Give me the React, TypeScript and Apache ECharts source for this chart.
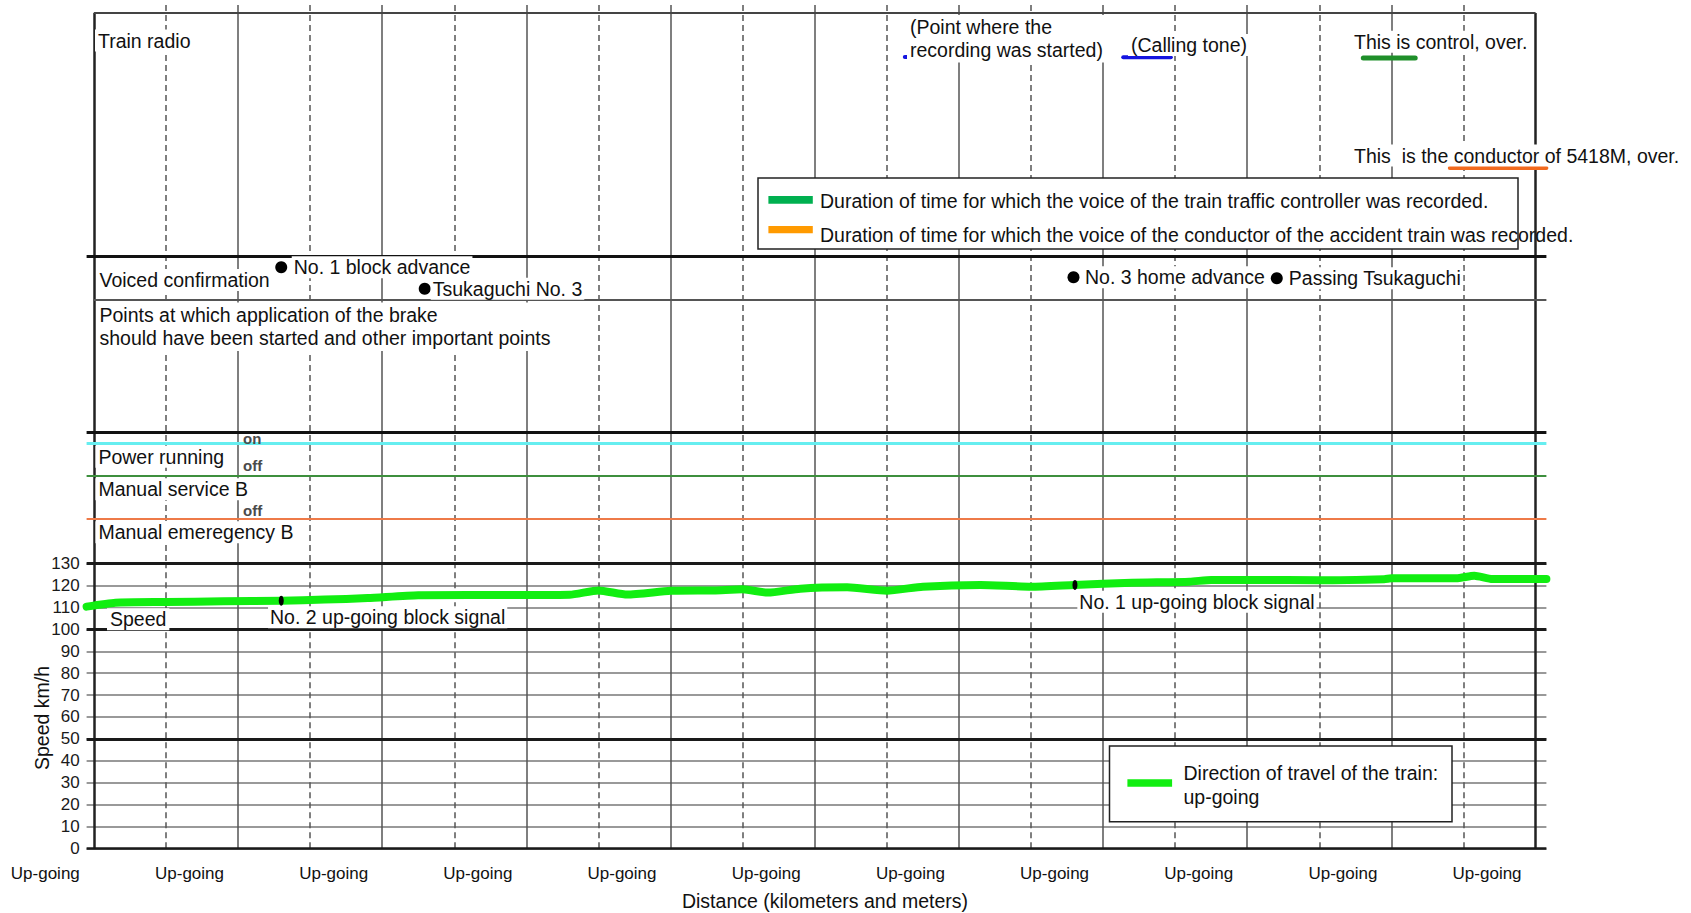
import React, { useEffect, useRef } from "react";
import * as echarts from "echarts";

// ---------------- data ----------------
// distance axis: grid divisions 0..20, labels every second division
const gridDivisions = [0, 1, 2, 3, 4, 5, 6, 7, 8, 9, 10, 11, 12, 13, 14, 15, 16, 17, 18, 19, 20];
const distanceTicks = [0, 2, 4, 6, 8, 10, 12, 14, 16, 18, 20];
const distanceTickLabels = ["Up-going", "Up-going", "Up-going", "Up-going", "Up-going", "Up-going", "Up-going", "Up-going", "Up-going", "Up-going", "Up-going"];

// speed trace (km/h) against distance divisions
const speedDistance = [-0.1, 0.3, 1.0, 1.8, 2.6, 3.2, 3.8, 4.5, 5.2, 6.0, 6.6, 7.0, 7.4, 8.0, 8.6, 9.0, 9.35, 9.8, 10.45, 11.0, 11.5, 12.3, 13.0, 13.6, 14.4, 15.2, 15.5, 16.1, 17.0, 17.9, 18.0, 18.9, 19.15, 19.4, 20.15];
const speedKmh = [110.4, 112.2, 112.5, 112.8, 113.1, 113.6, 114.3, 115.6, 115.7, 115.7, 115.8, 117.8, 115.9, 117.6, 117.8, 118.3, 116.8, 118.6, 119.2, 117.7, 119.5, 120.3, 119.5, 120.3, 121.3, 121.8, 122.6, 122.6, 122.4, 122.9, 123.3, 123.3, 124.5, 123.0, 123.0];

// signals passed (markers on the speed trace)
const signalNames = ["No. 2 up-going block signal", "No. 1 up-going block signal"];
const signalDistance = [2.6, 13.61];
const signalSpeed = [113.1, 120.3];

// voiced confirmations
const voicedNames = ["No. 1 block advance", "Tsukaguchi No. 3", "No. 3 home advance", "Passing Tsukaguchi"];
const voicedDistance = [2.6, 4.59, 13.59, 16.41];

// train radio recordings (start / end in distance divisions)
const radioNames = ["Recording started", "Calling tone", "Controller", "Conductor"];
const radioStart = [11.25, 14.28, 17.61, 18.81];
const radioEnd = [11.34, 14.94, 18.33, 20.15];

// speed axis
const speedMin = 0;
const speedMax = 130;
const speedStep = 10;
const speedHeavyLines = [0, 50, 100, 130];

// ---------------- layout / style ----------------
const FONT = '"Liberation Sans", Arial, Helvetica, sans-serif';
const X_MIN = -0.1;
const X_MAX = 20.15;
const GRID_LEFT = 86.6;
const GRID_WIDTH = 1459.8;
const UPPER_TOP = 5;
const SPEED_TOP = 563.7;
const SPEED_BOTTOM = 848.3;
const FRAME_TOP = 13;

const voicedRowY = [267.3, 288.7, 277.3, 278.3];
const voicedLabelGap = [4.5, 0, 3.5, 4];
const radioRowY = [57, 57.3, 58, 168];
const radioColors = ["#1414e0", "#1414e0", "#1f8f2a", "#f26a1e"];
const radioWidths = [4, 4, 5, 4];
const signalLabelOffset = [
  [-10.7, 21.6],
  [4.9, 21.7],
];

const panelRules = [
  { y: 13, color: "#444", width: 2, from: 0, to: 20 },
  { y: 255.8, color: "#111", width: 3, from: X_MIN, to: X_MAX },
  { y: 300, color: "#555", width: 2, from: 0, to: X_MAX },
  { y: 432.3, color: "#111", width: 3, from: X_MIN, to: X_MAX },
  { y: 443.3, color: "#66eef0", width: 3, from: X_MIN, to: X_MAX },
  { y: 475.3, color: "#3d8f3d", width: 2, from: X_MIN, to: X_MAX },
  { y: 519, color: "#ee7a48", width: 2, from: X_MIN, to: X_MAX },
];

const panelTexts = [
  { text: "Train radio", x: 95, y: 40.5 },
  { text: "(Point where the\nrecording was started)", x: 907, y: 38.7, lineHeight: 22.7 },
  { text: "(Calling tone)", x: 1128, y: 45 },
  { text: "This is control, over.", x: 1351, y: 41.7 },
  { text: "This  is the conductor of 5418M, over.", x: 1351, y: 155.5 },
  { text: "Voiced confirmation", x: 96.5, y: 280 },
  {
    text: "Points at which application of the brake\nshould have been started and other important points",
    x: 96.5,
    y: 326.7,
    lineHeight: 23.3,
  },
  { text: "Power running", x: 95.4, y: 456.7 },
  { text: "Manual service B", x: 95.4, y: 489.3 },
  { text: "Manual emeregency B", x: 95.4, y: 532.3 },
  { text: "Speed", x: 107, y: 619.3 },
];

const switchTexts = [
  { text: "on", x: 243, y: 438.3 },
  { text: "off", x: 243, y: 465.7 },
  { text: "off", x: 243, y: 510 },
];

function verticalRule(x: number, fromY?: number, toY?: number) {
  const isFrame = x === 0 || x === 20;
  const style = isFrame
    ? { color: "#222", width: 2.5, type: "solid" }
    : x % 2 === 0
    ? { color: "#555", width: 1.5, type: "solid" }
    : { color: "#555", width: 1.5, type: [6, 4] };
  if (fromY === undefined) return { xAxis: x, lineStyle: style };
  return [{ coord: [x, fromY], lineStyle: style }, { coord: [x, toY] }];
}

function buildOption() {
  const upperVerticals = gridDivisions.map((x) =>
    x === 0 || x === 20 ? verticalRule(x, FRAME_TOP, SPEED_TOP) : verticalRule(x)
  );
  const upperHorizontals = panelRules.map((r) => [
    { coord: [r.from, r.y], lineStyle: { color: r.color, width: r.width, type: "solid" } },
    { coord: [r.to, r.y] },
  ]);
  const speedVerticals = gridDivisions.map((x) => verticalRule(x));
  const speedHorizontals = speedHeavyLines.map((v) => ({
    yAxis: v,
    lineStyle: { color: "#1a1a1a", width: v === 0 ? 2.5 : 3, type: "solid" },
  }));

  const baseMarkLine = {
    z: 1,
    silent: true,
    symbol: ["none", "none"],
    label: { show: false },
    emphasis: { disabled: true },
    animation: false,
  };

  const textStyleBase = {
    fontFamily: FONT,
    fontSize: 19.5,
    fill: "#111",
    align: "left",
    verticalAlign: "middle",
  };

  const graphics: any[] = [];
  panelTexts.forEach((t) => {
    graphics.push({
      type: "text",
      x: t.x,
      y: t.y,
      z: 20,
      silent: true,
      style: {
        ...textStyleBase,
        text: t.text,
        lineHeight: t.lineHeight,
        backgroundColor: "#fff",
        padding: [1, 3],
      },
    });
  });
  switchTexts.forEach((t) => {
    graphics.push({
      type: "text",
      x: t.x,
      y: t.y,
      z: 20,
      silent: true,
      style: {
        fontFamily: FONT,
        fontSize: 15,
        fontWeight: "bold",
        fill: "#4a4a4a",
        text: t.text,
        align: "left",
        verticalAlign: "middle",
      },
    });
  });

  // radio legend box
  graphics.push(
    {
      type: "rect",
      z: 20,
      silent: true,
      shape: { x: 758, y: 178, width: 760, height: 71 },
      style: { fill: "#fff", stroke: "#222", lineWidth: 1.5 },
    },
    {
      type: "rect",
      z: 21,
      silent: true,
      shape: { x: 768.4, y: 196, width: 44.4, height: 7.7 },
      style: { fill: "#00b050" },
    },
    {
      type: "rect",
      z: 21,
      silent: true,
      shape: { x: 768.4, y: 226, width: 44.4, height: 7.3 },
      style: { fill: "#ff9a00" },
    },
    {
      type: "text",
      x: 820,
      y: 201,
      z: 21,
      silent: true,
      style: {
        ...textStyleBase,
        text: "Duration of time for which the voice of the train traffic controller was recorded.",
      },
    },
    {
      type: "text",
      x: 820,
      y: 235,
      z: 21,
      silent: true,
      style: {
        ...textStyleBase,
        text: "Duration of time for which the voice of the conductor of the accident train was recorded.",
      },
    }
  );

  // direction legend box
  graphics.push(
    {
      type: "rect",
      z: 20,
      silent: true,
      shape: { x: 1109.5, y: 746, width: 342.5, height: 75.7 },
      style: { fill: "#fff", stroke: "#222", lineWidth: 1.5 },
    },
    {
      type: "rect",
      z: 21,
      silent: true,
      shape: { x: 1127.4, y: 779.3, width: 44.7, height: 7.4 },
      style: { fill: "#11ee11" },
    },
    {
      type: "text",
      x: 1183.5,
      y: 785,
      z: 21,
      silent: true,
      style: {
        ...textStyleBase,
        text: "Direction of travel of the train:\nup-going",
        lineHeight: 23.4,
      },
    }
  );

  const labelBase = {
    show: true,
    formatter: "{b}",
    fontFamily: FONT,
    fontSize: 19.5,
    color: "#111",
    opacity: 1,
    backgroundColor: "#fff",
    padding: [1, 2],
  };

  const series: any[] = [
    {
      name: "upper rules",
      type: "line",
      xAxisIndex: 1,
      yAxisIndex: 1,
      data: [],
      markLine: { ...baseMarkLine, data: [...upperVerticals, ...upperHorizontals] },
    },
    {
      name: "speed rules",
      type: "line",
      xAxisIndex: 0,
      yAxisIndex: 0,
      data: [],
      markLine: { ...baseMarkLine, data: [...speedVerticals, ...speedHorizontals] },
    },
    {
      name: "Speed",
      type: "line",
      xAxisIndex: 0,
      yAxisIndex: 0,
      z: 3,
      clip: false,
      smooth: 0.2,
      showSymbol: false,
      lineStyle: { color: "#11ee11", width: 8, cap: "round", join: "round" },
      itemStyle: { color: "#11ee11" },
      data: speedDistance.map((d, i) => [d, speedKmh[i]]),
    },
    {
      name: "Signals",
      type: "scatter",
      xAxisIndex: 0,
      yAxisIndex: 0,
      z: 4,
      symbol: "circle",
      symbolSize: [5, 10],
      itemStyle: { color: "#000", opacity: 1 },
      label: { ...labelBase, align: "left", verticalAlign: "middle" },
      data: signalDistance.map((d, i) => ({
        name: signalNames[i],
        value: [d, signalSpeed[i]],
        label: { position: signalLabelOffset[i] },
      })),
    },
    {
      name: "Voiced confirmation",
      type: "scatter",
      xAxisIndex: 1,
      yAxisIndex: 1,
      z: 4,
      symbol: "circle",
      symbolSize: 12,
      itemStyle: { color: "#000", opacity: 1 },
      label: { ...labelBase, position: "right" },
      data: voicedDistance.map((d, i) => ({
        name: voicedNames[i],
        value: [d, voicedRowY[i]],
        label: { distance: voicedLabelGap[i] },
      })),
    },
    ...radioNames.map((n, i) => ({
      name: n,
      type: "line",
      xAxisIndex: 1,
      yAxisIndex: 1,
      z: 4,
      clip: false,
      showSymbol: false,
      lineStyle: { color: radioColors[i], width: radioWidths[i], cap: "round" },
      data: [
        [radioStart[i], radioRowY[i]],
        [radioEnd[i], radioRowY[i]],
      ],
    })),
  ];

  return {
    animation: false,
    backgroundColor: "#fff",
    textStyle: { fontFamily: FONT },
    grid: [
      { left: GRID_LEFT, top: SPEED_TOP, width: GRID_WIDTH, height: SPEED_BOTTOM - SPEED_TOP, containLabel: false },
      { left: GRID_LEFT, top: UPPER_TOP, width: GRID_WIDTH, height: SPEED_TOP - UPPER_TOP, containLabel: false },
    ],
    xAxis: [
      {
        gridIndex: 0,
        type: "value",
        min: X_MIN,
        max: X_MAX,
        axisLine: { show: false },
        axisTick: { show: false },
        splitLine: { show: false },
        axisLabel: {
          customValues: distanceTicks,
          formatter: (v: number) => {
            const i = distanceTicks.findIndex((t) => Math.abs(t - v) < 1e-6);
            return i >= 0 ? distanceTickLabels[i] : "";
          },
          fontFamily: FONT,
          fontSize: 17,
          color: "#111",
          margin: 17,
          padding: [0, 97, 0, 0],
        },
        name: "Distance (kilometers and meters)",
        nameLocation: "middle",
        nameGap: 43,
        nameMoveOverlap: false,
        nameTextStyle: { fontFamily: FONT, fontSize: 19.5, color: "#111", padding: [0, 0, 0, 17] },
      },
      {
        gridIndex: 1,
        type: "value",
        min: X_MIN,
        max: X_MAX,
        show: false,
      },
    ],
    yAxis: [
      {
        gridIndex: 0,
        type: "value",
        min: speedMin,
        max: speedMax,
        interval: speedStep,
        axisLine: { show: false },
        axisTick: { show: false },
        axisLabel: { fontFamily: FONT, fontSize: 17, color: "#1a1a1a", margin: 7 },
        splitLine: { show: true, lineStyle: { color: "#999", width: 2 } },
        name: "Speed km/h",
        nameLocation: "middle",
        nameRotate: 90,
        nameGap: 35,
        nameMoveOverlap: false,
        nameTextStyle: { fontFamily: FONT, fontSize: 19.5, color: "#111", padding: [0, 24, 0, 0] },
      },
      {
        gridIndex: 1,
        type: "value",
        min: UPPER_TOP,
        max: SPEED_TOP,
        inverse: true,
        show: false,
      },
    ],
    series,
    graphic: { elements: graphics },
  };
}

export default function App() {
  const ref = useRef<HTMLDivElement>(null);
  useEffect(() => {
    if (!ref.current) return;
    const chart = echarts.init(ref.current, null, { renderer: "svg" });
    chart.setOption(buildOption() as any);
    return () => chart.dispose();
  }, []);
  return (
    <div
      ref={ref}
      style={{ position: "fixed", left: 0, top: 0, width: 1691, height: 913, background: "#fff" }}
    />
  );
}
